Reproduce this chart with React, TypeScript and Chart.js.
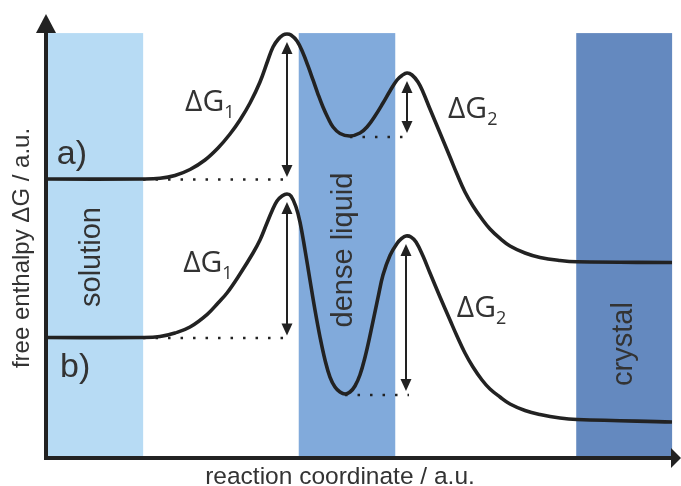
import { useEffect, useRef } from 'react';
import { Chart, registerables } from 'chart.js';
Chart.register(...registerables);

// Curve a): reaction coordinate (a.u.) and free enthalpy (a.u.)
const aX = [0, 15.28, 17.95, 20.31, 22.68, 25.04, 27.09, 28.98, 30.55, 32.13, 33.70, 34.96, 35.75, 36.54, 37.32, 37.95, 38.58, 39.53, 40.47, 41.26, 42.05, 42.83, 43.62, 44.41, 45.20, 46.30, 47.87, 49.45, 50.55, 51.81, 53.07, 54.17, 55.28, 56.06, 56.85, 57.64, 58.58, 59.37, 60.47, 62.05, 63.62, 64.72, 65.98, 67.24, 68.66, 69.92, 71.50, 73.07, 75.43, 77.80, 80.94, 83.62, 98.58];
const aY = [62.84, 62.84, 63.0, 63.63, 64.98, 67.12, 69.82, 72.97, 76.13, 79.95, 84.68, 89.64, 92.57, 94.26, 95.27, 95.5, 95.27, 93.92, 91.22, 88.29, 85.14, 81.98, 79.05, 76.58, 74.55, 73.09, 72.52, 73.2, 74.55, 77.03, 79.95, 82.66, 85.14, 86.15, 86.71, 86.26, 84.68, 82.43, 78.6, 73.2, 67.79, 63.96, 59.91, 56.76, 53.83, 51.58, 49.44, 47.75, 46.17, 45.16, 44.48, 44.19, 44.03];
// Curve b)
const bX = [0, 15.28, 17.95, 20.31, 22.68, 25.35, 27.09, 28.50, 30.55, 32.60, 33.70, 34.80, 35.59, 36.38, 37.17, 37.95, 38.58, 39.37, 40.00, 40.79, 41.57, 42.36, 43.15, 43.94, 44.72, 45.51, 46.30, 47.09, 47.87, 48.66, 49.45, 50.24, 51.02, 52.28, 53.07, 54.17, 55.28, 56.06, 56.69, 57.48, 58.27, 59.37, 60.47, 62.05, 63.62, 64.72, 65.98, 67.24, 68.66, 69.92, 71.50, 73.07, 75.43, 77.80, 80.94, 83.62, 98.58];
const bY = [27.14, 27.14, 27.36, 28.15, 29.5, 32.3, 34.91, 37.16, 41.44, 46.17, 49.1, 52.93, 55.63, 57.88, 59.01, 59.46, 59.01, 56.53, 53.15, 46.85, 40.09, 33.33, 27.25, 22.07, 18.24, 15.99, 14.86, 14.41, 14.86, 16.22, 18.75, 22.7, 27.54, 36.1, 41.2, 45.6, 48.3, 49.5, 50.0, 49.77, 48.65, 45.5, 41.67, 36.26, 31.08, 27.48, 23.65, 20.5, 17.57, 15.54, 13.74, 12.16, 10.7, 9.8, 9.01, 8.67, 8.11];
const curveNames = ['a)', 'b)'];

// Phase regions along the reaction coordinate
const bandNames = ['solution', 'dense liquid', 'crystal'];
const bandStart = [0, 39.8, 83.5];
const bandEnd = [15.3, 55.0, 98.6];
const bandTop = 95.7;

const INK = '#222222';
const TEXT = '#333333';
const bandColors = ['#b7dbf4', '#81aadb', '#6489bf'];

function analyse(xs: number[], ys: number[]) {
  const peaks: number[] = [];
  const mins: number[] = [];
  for (let i = 1; i < ys.length - 1; i++) {
    if (ys[i] > ys[i - 1] && ys[i] > ys[i + 1]) peaks.push(i);
    if (ys[i] < ys[i - 1] && ys[i] < ys[i + 1]) mins.push(i);
  }
  let flatEnd = 0;
  while (flatEnd + 1 < ys.length && ys[flatEnd + 1] === ys[0]) flatEnd++;
  return { peaks, mins, flatEnd };
}

const curves = [
  { xs: aX, ys: aY },
  { xs: bX, ys: bY },
];

// label placement (data units) for the ΔG labels and curve names
const dgLabelPos = [
  [[21.9, 78.2], [63.3, 76.6]],
  [[21.6, 41.9], [64.7, 31.8]],
];
const namePos = [[1.7, 66.2], [2.2, 18.2]];

function drawDoubleArrow(ctx: CanvasRenderingContext2D, px: number, yTop: number, yBot: number) {
  const hl = 12, hw = 5.5;
  ctx.save();
  ctx.strokeStyle = INK;
  ctx.fillStyle = INK;
  ctx.lineWidth = 2;
  ctx.beginPath();
  ctx.moveTo(px, yTop + hl - 1);
  ctx.lineTo(px, yBot - hl + 1);
  ctx.stroke();
  ctx.beginPath();
  ctx.moveTo(px, yTop);
  ctx.lineTo(px - hw, yTop + hl);
  ctx.lineTo(px + hw, yTop + hl);
  ctx.closePath();
  ctx.fill();
  ctx.beginPath();
  ctx.moveTo(px, yBot);
  ctx.lineTo(px - hw, yBot - hl);
  ctx.lineTo(px + hw, yBot - hl);
  ctx.closePath();
  ctx.fill();
  ctx.restore();
}

const diagramPlugin = {
  id: 'diagram',
  beforeDatasetsDraw(chart: any) {
    const { ctx, scales } = chart;
    const x = scales.x, y = scales.y;
    ctx.save();
    // bands
    bandNames.forEach((name, i) => {
      const l = x.getPixelForValue(bandStart[i]);
      const r = x.getPixelForValue(bandEnd[i]);
      const t = y.getPixelForValue(bandTop);
      const b = y.getPixelForValue(0);
      ctx.fillStyle = bandColors[i];
      ctx.fillRect(l, t, r - l, b - t);
    });
    // band labels
    const bandLabelAnchors = [[100, 257], [352, 250], [632, 344]];
    ctx.fillStyle = TEXT;
    ctx.font = '29px "Liberation Sans", Arial, sans-serif';
    ctx.textAlign = 'center';
    ctx.textBaseline = 'alphabetic';
    bandNames.forEach((name, i) => {
      ctx.save();
      ctx.translate(bandLabelAnchors[i][0], bandLabelAnchors[i][1]);
      ctx.rotate(-Math.PI / 2);
      ctx.fillText(name, 0, 0);
      ctx.restore();
    });
    // dotted reference levels
    ctx.strokeStyle = INK;
    ctx.lineWidth = 2.5;
    ctx.setLineDash([2.5, 10]);
    ctx.lineCap = 'butt';
    curves.forEach(({ xs, ys }) => {
      const { peaks, mins, flatEnd } = analyse(xs, ys);
      const p1 = peaks[0], p2 = peaks[1], m = mins[0];
      const lvl1 = y.getPixelForValue(ys[0]) + 0.5;
      ctx.beginPath();
      ctx.moveTo(x.getPixelForValue(xs[flatEnd]), lvl1);
      ctx.lineTo(x.getPixelForValue(xs[p1]) + 2, lvl1);
      ctx.stroke();
      const lvl2 = y.getPixelForValue(ys[m]) + 1;
      ctx.beginPath();
      ctx.moveTo(x.getPixelForValue(xs[m]), lvl2);
      ctx.lineTo(x.getPixelForValue(xs[p2]) + 3, lvl2);
      ctx.stroke();
    });
    ctx.restore();
  },
  afterDatasetsDraw(chart: any) {
    const { ctx, scales } = chart;
    const x = scales.x, y = scales.y;
    const x0 = x.getPixelForValue(0);
    const y0 = y.getPixelForValue(0);
    const yTop = y.getPixelForValue(100);
    const xEnd = x.getPixelForValue(100);
    ctx.save();
    // axes
    ctx.strokeStyle = INK;
    ctx.fillStyle = INK;
    ctx.lineWidth = 4;
    ctx.beginPath();
    ctx.moveTo(x0, y0 + 2);
    ctx.lineTo(x0, yTop + 16);
    ctx.stroke();
    ctx.beginPath();
    ctx.moveTo(x0 - 2, y0);
    ctx.lineTo(xEnd - 8, y0);
    ctx.stroke();
    ctx.beginPath();
    ctx.moveTo(x0, yTop);
    ctx.lineTo(x0 - 10, yTop + 19);
    ctx.lineTo(x0 + 10, yTop + 19);
    ctx.closePath();
    ctx.fill();
    ctx.beginPath();
    ctx.moveTo(xEnd, y0);
    ctx.lineTo(xEnd - 10, y0 - 10);
    ctx.lineTo(xEnd - 10, y0 + 10);
    ctx.closePath();
    ctx.fill();

    // barrier arrows and labels
    curves.forEach(({ xs, ys }, ci) => {
      const { peaks, mins } = analyse(xs, ys);
      const p1 = peaks[0], p2 = peaks[1], m = mins[0];
      drawDoubleArrow(ctx, x.getPixelForValue(xs[p1]), y.getPixelForValue(ys[p1]) + 8, y.getPixelForValue(ys[0]) - 2);
      drawDoubleArrow(ctx, x.getPixelForValue(xs[p2]), y.getPixelForValue(ys[p2]) + 8, y.getPixelForValue(ys[m]) - 3);
      ['1', '2'].forEach((sub, k) => {
        const [lx, ly] = dgLabelPos[ci][k];
        const px = x.getPixelForValue(lx);
        const py = y.getPixelForValue(ly);
        ctx.fillStyle = TEXT;
        ctx.textAlign = 'left';
        ctx.textBaseline = 'alphabetic';
        ctx.font = '30px "Open Sans", sans-serif';
        ctx.fillText('ΔG', px, py);
        const w = ctx.measureText('ΔG').width;
        ctx.font = '18px "Open Sans", sans-serif';
        ctx.fillText(sub, px + w, py + 7);
      });
      ctx.font = '34px "Liberation Sans", Arial, sans-serif';
      ctx.fillStyle = TEXT;
      ctx.textAlign = 'left';
      ctx.fillText(curveNames[ci], x.getPixelForValue(namePos[ci][0]), y.getPixelForValue(namePos[ci][1]));
    });

    // axis titles
    ctx.fillStyle = TEXT;
    ctx.font = '24.5px "Liberation Sans", Arial, sans-serif';
    ctx.textAlign = 'center';
    ctx.textBaseline = 'alphabetic';
    ctx.fillText('reaction coordinate / a.u.', 340, 484);
    ctx.font = '24px "Liberation Sans", Arial, sans-serif';
    ctx.save();
    ctx.translate(29, 248);
    ctx.rotate(-Math.PI / 2);
    ctx.fillText('free enthalpy ΔG / a.u.', 0, 0);
    ctx.restore();
    ctx.restore();
  },
};

export default function App() {
  const ref = useRef<HTMLCanvasElement | null>(null);
  useEffect(() => {
    document.body.style.margin = '0';
    const canvas = ref.current;
    if (!canvas) return;
    const mk = (xs: number[], ys: number[], label: string) => ({
      label,
      data: xs.map((v, i) => ({ x: v, y: ys[i] })),
      borderColor: INK,
      borderWidth: 3.6,
      pointRadius: 0,
      fill: false,
      tension: 0.4,
      cubicInterpolationMode: 'default' as const,
      borderCapStyle: 'butt' as const,
      borderJoinStyle: 'round' as const,
    });
    const chart = new Chart(canvas, {
      type: 'line',
      data: {
        datasets: [mk(aX, aY, curveNames[0]), mk(bX, bY, curveNames[1])],
      },
      options: {
        animation: false,
        responsive: false,
        events: [],
        layout: { padding: { left: 46, right: 0, top: 14, bottom: 28 } },
        plugins: { legend: { display: false }, tooltip: { enabled: false } },
        scales: {
          x: { type: 'linear', min: 0, max: 100, display: false },
          y: { type: 'linear', min: 0, max: 100, display: false },
        },
      },
      plugins: [diagramPlugin],
    });
    return () => chart.destroy();
  }, []);
  return (
    <div style={{ position: 'absolute', left: 0, top: 0, width: 681, height: 486, background: '#fff' }}>
      <canvas ref={ref} width={681} height={486} />
    </div>
  );
}
